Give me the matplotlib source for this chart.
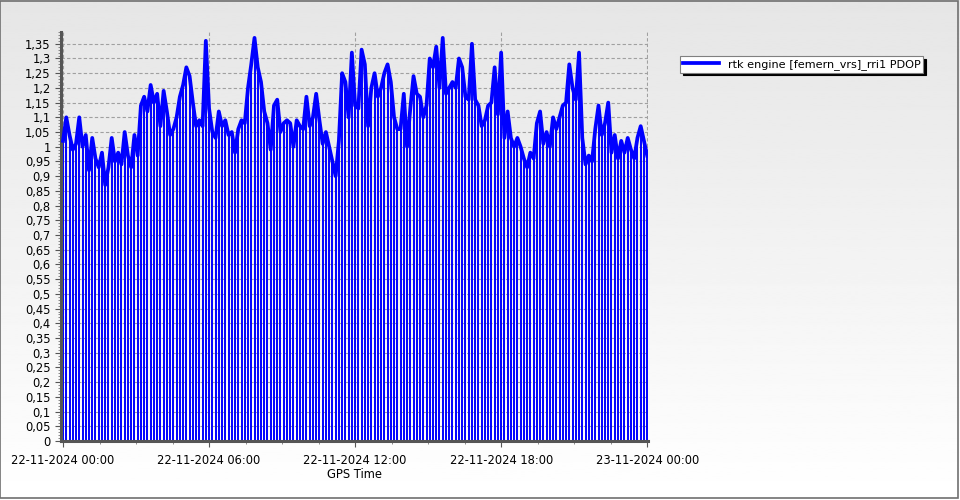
import numpy as np
import pandas as pd
import matplotlib
matplotlib.use("Agg")
import matplotlib.pyplot as plt
import matplotlib.dates as mdates
from matplotlib.patches import Rectangle
from matplotlib.ticker import MultipleLocator, FuncFormatter, FixedLocator

# -------------------------
# Data (PDOP every 8 minutes)
# -------------------------
start_time = "2024-11-22 00:00"
step = "8min"
series_name = "rtk engine [femern_vrs]_rri1 PDOP"

pdop = [
    1.02, 1.10, 1.04, 0.99, 1.01, 1.10, 1.00, 1.04, 0.92, 1.03,
    0.96, 0.93, 0.98, 0.87, 0.93, 1.03, 0.95, 0.98, 0.94, 1.05,
    0.97, 0.93, 1.04, 0.97, 1.14, 1.17, 1.12, 1.21, 1.15, 1.18,
    1.07, 1.19, 1.12, 1.04, 1.06, 1.10, 1.17, 1.21, 1.27, 1.24,
    1.15, 1.07, 1.09, 1.07, 1.36, 1.13, 1.05, 1.03, 1.12, 1.07,
    1.09, 1.04, 1.05, 0.98, 1.06, 1.09, 1.08, 1.20, 1.28, 1.37,
    1.27, 1.22, 1.12, 1.08, 0.99, 1.14, 1.16, 1.05, 1.08, 1.09,
    1.08, 1.00, 1.09, 1.07, 1.06, 1.17, 1.07, 1.10, 1.18, 1.09,
    1.01, 1.05, 1.00, 0.95, 0.90, 1.02, 1.25, 1.22, 1.10, 1.32,
    1.14, 1.13, 1.33, 1.28, 1.07, 1.20, 1.25, 1.17, 1.20, 1.25,
    1.28, 1.22, 1.10, 1.06, 1.06, 1.18, 1.00, 1.13, 1.24, 1.18,
    1.17, 1.10, 1.14, 1.30, 1.27, 1.34, 1.20, 1.37, 1.18, 1.20,
    1.22, 1.20, 1.30, 1.27, 1.17, 1.16, 1.35, 1.16, 1.14, 1.07,
    1.09, 1.14, 1.15, 1.27, 1.11, 1.32, 1.03, 1.12, 1.03, 1.00,
    1.03, 1.00, 0.96, 0.93, 0.98, 0.96, 1.08, 1.12, 1.01, 1.05,
    1.00, 1.10, 1.06, 1.10, 1.14, 1.15, 1.28, 1.20, 1.16, 1.32,
    1.03, 0.94, 0.97, 0.95, 1.06, 1.14, 1.04, 1.08, 1.15, 0.98,
    1.04, 0.96, 1.02, 0.98, 1.03, 0.99, 0.96, 1.03, 1.07, 1.02,
    0.97,
]

times = pd.date_range(start_time, periods=len(pdop), freq=step)

blue = "#0000ff"

# -------------------------
# Figure with grey-to-white background
# -------------------------
fig = plt.figure(figsize=(9.6, 5.0), dpi=100)
bg = fig.add_axes([0, 0, 1, 1], zorder=-10)
grad = np.linspace(0.90, 1.0, 256).reshape(-1, 1)
bg.imshow(grad, aspect="auto", cmap="gray", vmin=0, vmax=1, extent=[0, 1, 1, 0])
bg.set_axis_off()
fig.patches.append(Rectangle((0, 0.004), 0.998, 0.995, transform=fig.transFigure,
                             fill=False, edgecolor="#707070", linewidth=1.2))

ax = fig.add_axes([61 / 960, 1 - 441 / 500, (648 - 61) / 960, (441 - 32) / 500])
ax.set_facecolor("none")

# stems + line
ax.vlines(times, 0, pdop, color=blue, linewidth=1.4, zorder=2)
ax.plot(times, pdop, color=blue, linewidth=2.7, label=series_name, zorder=3)

# axes ranges
ax.set_ylim(0, 1.39)
ax.set_xlim(pd.Timestamp("2024-11-21 23:55"), pd.Timestamp("2024-11-23 00:02"))

ax.yaxis.set_major_locator(MultipleLocator(0.05))
ax.yaxis.set_minor_locator(MultipleLocator(0.01))
ax.yaxis.set_major_formatter(FuncFormatter(
    lambda v, p: f"{v:.2f}".rstrip("0").rstrip(".").replace(".", ",")))

ax.xaxis.set_major_locator(mdates.HourLocator(byhour=[0, 6, 12, 18]))
minor_ticks = pd.date_range("2024-11-22 00:00", "2024-11-23 00:00", freq="90min")
ax.xaxis.set_minor_locator(FixedLocator(mdates.date2num(minor_ticks)))
ax.xaxis.set_major_formatter(mdates.DateFormatter("%d-%m-%Y %H:%M"))

ax.grid(True, which="major", linestyle=(0, (3, 2)), color="#a0a0a0", linewidth=0.8, zorder=0)
ax.set_axisbelow(True)

for s in ["top", "right"]:
    ax.spines[s].set_visible(False)
for s in ["left", "bottom"]:
    ax.spines[s].set_color("#555555")
    ax.spines[s].set_linewidth(2.2)

ax.tick_params(axis="both", which="major", labelsize=8.3, colors="#555555",
               labelcolor="black", length=4, width=0.8)
ax.tick_params(axis="both", which="minor", colors="#777777", length=2, width=0.6)
ax.tick_params(axis="x", which="major", pad=5)

ax.set_xlabel("GPS Time", fontsize=8.3, labelpad=1)

leg = ax.legend(loc="upper left", bbox_to_anchor=(680 / 960, 1 - 56 / 500),
                bbox_transform=fig.transFigure, frameon=True, fancybox=False,
                shadow={"color": "black", "alpha": 1.0}, fontsize=8.1,
                handlelength=3.2, borderpad=0.25, handletextpad=0.8,
                borderaxespad=0)
leg.get_frame().set_edgecolor("#808080")
leg.get_frame().set_linewidth(0.8)

fig.savefig("out.png", dpi=100)
